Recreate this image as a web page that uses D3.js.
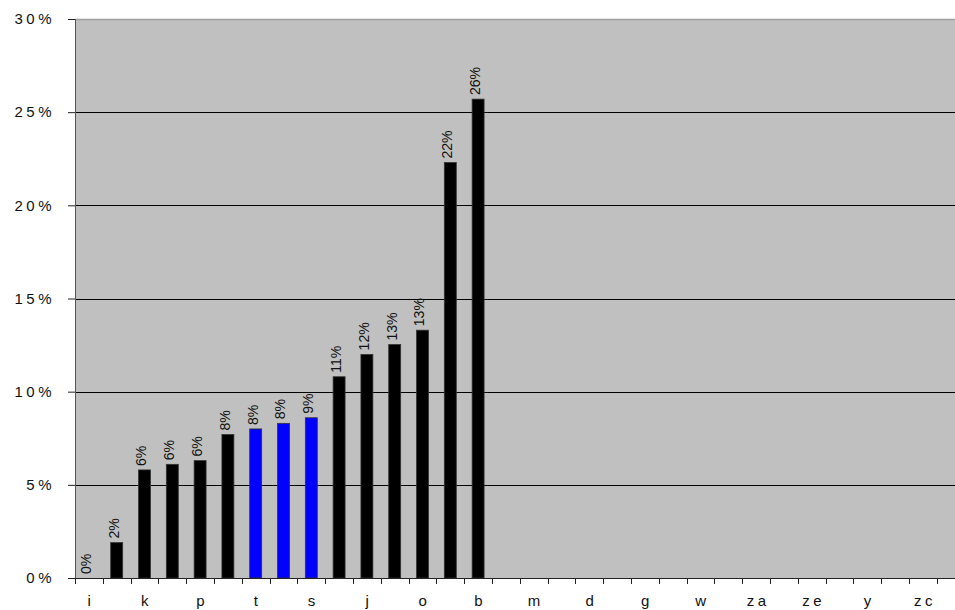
<!DOCTYPE html>
<html>
<head>
<meta charset="utf-8">
<script src="https://cdn.jsdelivr.net/npm/d3@7"></script>
<style>
    body { margin: 0; background: #fff; }
    svg { display: block; font-family: "Liberation Sans", Arial, sans-serif; }
    .axis text { fill: #111; font-size: 15px; letter-spacing: 3.5px; }
    .bar-label { fill: #111; font-size: 14px; }
</style>
</head>
<body>
<svg id="chart" width="955" height="610"></svg>
<script>

// tick labels only on every other category, the odd slots are unlabeled
const tickLabels = ["i", "", "k", "", "p", "", "t", "", "s", "", "j", "", "o", "", "b", "",
                    "m", "", "d", "", "g", "", "w", "", "za", "", "ze", "", "y", "", "zc", ""];
// percentages, null where the category has no bar
const values = [0, 1.9, 5.8, 6.1, 6.3, 7.7, 8.0, 8.3, 8.6, 10.8, 12.0, 12.53, 13.3, 22.3, 25.7,
                null, null, null, null, null, null, null, null, null, null, null, null, null, null, null, null, null];
const blueBars = [6, 7, 8];
const yTicks = [0, 5, 10, 15, 20, 25, 30];

class BarChart {

    constructor(svg) {
        this.svg = svg;
        this.left = 75;
        this.top = 19;
        this.bottom = 578;
        this.step = 27.8;

        this.x = d3.scaleBand()
            .domain(d3.range(tickLabels.length))
            .range([this.left, this.left + this.step * tickLabels.length])
            .padding(0);
        this.y = d3.scaleLinear()
            .domain([0, 30])
            .range([this.bottom, this.top]);

        this.drawBack();
        this.drawBars();
        this.drawAxes();
    }

    drawBack() {
        let [x0, x1] = this.x.range();

        this.svg.append("rect")
            .attr("x", x0)
            .attr("y", this.top)
            .attr("width", x1 - x0)
            .attr("height", this.bottom - this.top)
            .attr("fill", "#c0c0c0");

        // gridlines, the top one is the light border
        this.svg.append("g")
            .selectAll("line")
            .data(yTicks.filter(d => d > 0))
            .enter()
            .append("line")
                .attr("x1", x0)
                .attr("x2", x1)
                .attr("y1", d => Math.round(this.y(d)) + 0.5)
                .attr("y2", d => Math.round(this.y(d)) + 0.5)
                .attr("stroke", d => d === 30 ? "#a0a0a0" : "#000")
                .attr("stroke-width", d => d === 30 ? 1.5 : 1);
    }

    drawBars() {
        let w = this.x.step() * 0.43;
        let bars = values
            .map((v, i) => ({ i: i, v: v }))
            .filter(d => d.v !== null);

        this.svg.append("g")
            .selectAll("rect")
            .data(bars.filter(d => d.v > 0))
            .enter()
            .append("rect")
                .attr("x", d => this.x(d.i) + (this.x.step() - w) / 2)
                .attr("y", d => this.y(d.v))
                .attr("width", w)
                .attr("height", d => this.bottom - this.y(d.v))
                .attr("fill", d => blueBars.includes(d.i) ? "#0000ff" : "#000")
                .attr("stroke", "#333")
                .attr("stroke-width", 0.8);

        this.svg.append("g")
            .selectAll("text")
            .data(bars)
            .enter()
            .append("text")
                .classed("bar-label", true)
                .attr("transform", d => {
                    let cx = this.x(d.i) + this.x.step() / 2 - 3,
                        cy = this.y(d.v) - 4;
                    return `translate(${cx},${cy}) rotate(-90)`;
                })
                .attr("dy", "0.35em")
                .text(d => Math.round(d.v) + "%");
    }

    drawAxes() {
        let [x0, x1] = this.x.range();

        // y axis
        let yAxis = this.svg.append("g")
            .classed("axis", true)
            .attr("transform", `translate(${this.left},0)`)
            .call(d3.axisLeft(this.y)
                .tickValues(yTicks)
                .tickSize(7)
                .tickPadding(13)
                .tickFormat(d => d + "%"));
        yAxis.select(".domain").remove();
        yAxis.selectAll(".tick line").attr("stroke", "#222");
        yAxis.append("line")
            .attr("x1", 0.5).attr("x2", 0.5)
            .attr("y1", this.top).attr("y2", this.bottom)
            .attr("stroke", "#555");

        // x axis: ticks on the category boundaries, labels in the middle
        let xAxis = this.svg.append("g")
            .classed("axis", true)
            .attr("transform", `translate(0,${this.bottom})`);
        xAxis.append("line")
            .attr("x1", x0).attr("x2", x1)
            .attr("y1", 0.5).attr("y2", 0.5)
            .attr("stroke", "#222");
        xAxis.selectAll("line.tick")
            .data(d3.range(tickLabels.length + 1))
            .enter()
            .append("line")
                .classed("tick", true)
                .attr("x1", i => Math.round(x0 + i * this.x.step()) + 0.5)
                .attr("x2", i => Math.round(x0 + i * this.x.step()) + 0.5)
                .attr("y1", 0)
                .attr("y2", 6)
                .attr("stroke", "#222");
        xAxis.selectAll("text")
            .data(d3.range(tickLabels.length).filter(i => tickLabels[i] !== ""))
            .enter()
            .append("text")
                .attr("x", i => this.x(i) + this.x.step() / 2 + 2)
                .attr("y", 28)
                .attr("text-anchor", "middle")
                .text(i => tickLabels[i]);
    }

}

new BarChart(d3.select("#chart"));
</script>
</body>
</html>
